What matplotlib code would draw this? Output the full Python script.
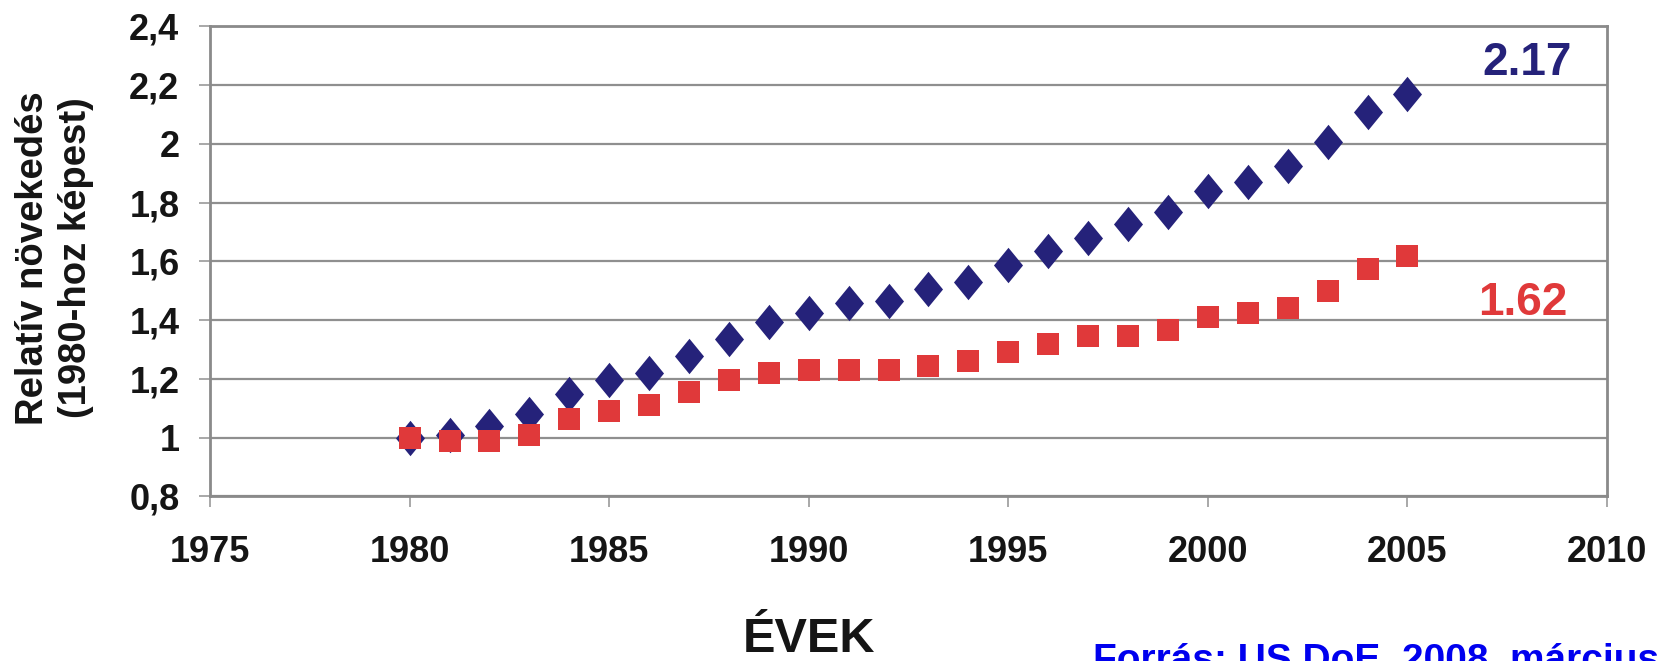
import matplotlib
matplotlib.use("Agg")
import matplotlib.pyplot as plt
from matplotlib.ticker import FixedLocator

plt.rcParams['font.family'] = ['Liberation Sans', 'DejaVu Sans']
plt.rcParams['font.weight'] = 'bold'

years = list(range(1980, 2006))
blue_vals = [1.00, 1.01, 1.04, 1.08, 1.147, 1.198, 1.22, 1.278, 1.336, 1.394,
             1.423, 1.459, 1.466, 1.506, 1.531, 1.589, 1.636, 1.68, 1.727, 1.767,
             1.839, 1.871, 1.926, 2.005, 2.11, 2.17]
red_vals = [1.00, 0.99, 0.99, 1.01, 1.064, 1.09, 1.11, 1.155, 1.198, 1.22,
            1.23, 1.23, 1.23, 1.245, 1.26, 1.29, 1.32, 1.347, 1.347, 1.368,
            1.41, 1.426, 1.44, 1.50, 1.575, 1.62]
x_ticks = [1975, 1980, 1985, 1990, 1995, 2000, 2005, 2010]
y_ticks = [0.8, 1.0, 1.2, 1.4, 1.6, 1.8, 2.0, 2.2, 2.4]
y_labels = ['0,8', '1', '1,2', '1,4', '1,6', '1,8', '2', '2,2', '2,4']

navy = '#25227a'
red = '#e0393a'

fig = plt.figure(figsize=(16.67, 6.61), dpi=100)
ax = fig.add_axes([0.126, 0.249, 0.838, 0.711])

diamond = [(0, 1), (0.82, 0), (0, -1), (-0.82, 0), (0, 1)]
ax.plot(years, blue_vals, linestyle='none', marker=diamond, markersize=25.5,
        color=navy, markeredgewidth=0, zorder=3)
ax.plot(years, red_vals, linestyle='none', marker='s', markersize=15.8,
        color=red, markeredgewidth=0, zorder=4)

ax.set_xlim(1975, 2010)
ax.set_ylim(0.8, 2.4)
ax.xaxis.set_major_locator(FixedLocator(x_ticks))
ax.set_xticklabels([str(v) for v in x_ticks])
ax.yaxis.set_major_locator(FixedLocator(y_ticks))
ax.set_yticklabels(y_labels)

ax.grid(axis='y', color='#8f8f8f', linewidth=1.6, zorder=1)
ax.set_axisbelow(True)
for s in ['left', 'right', 'bottom', 'top']:
    ax.spines[s].set_color('#8a8a8a')
    ax.spines[s].set_linewidth(2.0)

ax.tick_params(axis='x', direction='out', length=8, width=1.2, color='#999999',
               labelsize=26, pad=20, labelcolor='#151515')
ax.tick_params(axis='y', direction='out', length=8, width=1.2, color='#999999',
               labelsize=26, pad=14, labelcolor='#151515')
for t in ax.get_xticklabels() + ax.get_yticklabels():
    t.set_fontweight('bold')

fig.text(0.0200, 0.610, 'Relatív növekedés', rotation=90, ha='center', va='center',
         fontsize=27.5, fontweight='bold', color='#151515')
fig.text(0.0455, 0.610, '(1980-hoz képest)', rotation=90, ha='center', va='center',
         fontsize=27.5, fontweight='bold', color='#151515')

ax.text(0.911, 0.897, '2.17', transform=ax.transAxes, ha='left', va='baseline',
        fontsize=33, fontweight='bold', color=navy)
ax.text(0.908, 0.386, '1.62', transform=ax.transAxes, ha='left', va='baseline',
        fontsize=33, fontweight='bold', color=red)

fig.text(809 / 1667, 1 - 652 / 661, 'ÉVEK', ha='center', va='baseline',
         fontsize=35, fontweight='bold', color='#151515')
fig.text(1093 / 1667, 1 - 671 / 661, 'Forrás: US DoE, 2008. március',
         ha='left', va='baseline', fontsize=28, fontweight='bold', color='#0000ee')

fig.savefig('out.png', dpi=100)
